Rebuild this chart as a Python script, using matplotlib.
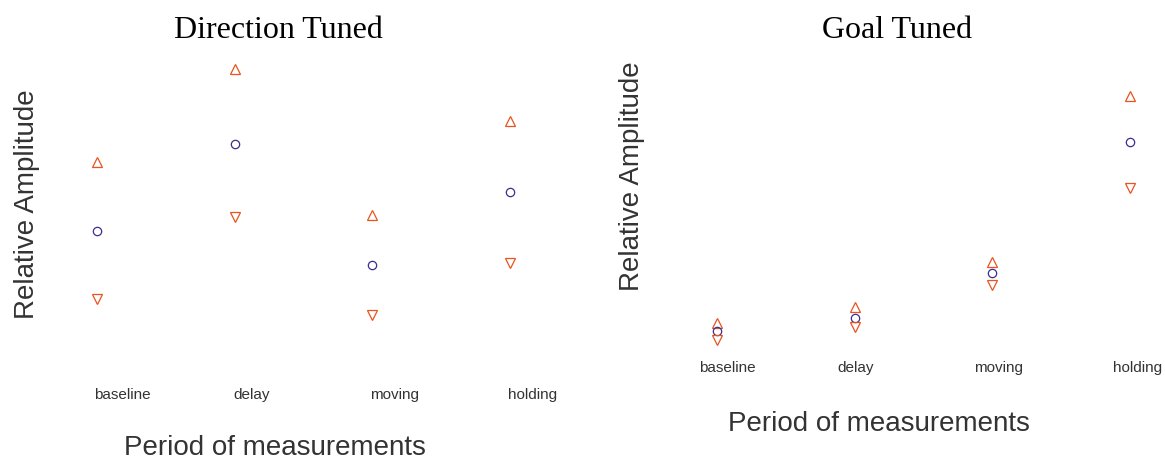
import matplotlib
matplotlib.use("Agg")
import matplotlib.pyplot as plt
import matplotlib.transforms as mtransforms

# Period categories
periods = ["baseline", "delay", "moving", "holding"]

# Direction-tuned cells: mean and upper / lower bounds (relative amplitude)
dir_mean = [0.393, 0.683, 0.280, 0.523]
dir_upper = [0.623, 0.933, 0.447, 0.760]
dir_lower = [0.167, 0.440, 0.113, 0.287]

# Goal-tuned cells: mean and upper / lower bounds (relative amplitude)
goal_mean = [0.067, 0.115, 0.281, 0.767]
goal_upper = [0.096, 0.156, 0.322, 0.937]
goal_lower = [0.033, 0.081, 0.237, 0.596]

W, H = 1165, 460
fig = plt.figure(figsize=(W / 100, H / 100), dpi=100)

ORANGE = "#E8531F"
NAVY = "#3B2E8E"
SANS = ["Liberation Sans", "DejaVu Sans"]
SERIF = ["Liberation Serif", "DejaVu Serif"]


def px_axes(x0, x1, ytop, ybot):
    return fig.add_axes([x0 / W, (H - ybot) / H, (x1 - x0) / W, (ybot - ytop) / H])


def draw_panel(ax, mean, upper, lower, first_px, step_px, x0, x1,
               label_y, label_dx):
    xs = list(range(1, len(periods) + 1))
    # x limits chosen so category 1 lands on first_px with step_px spacing
    ax.set_xlim(1 + (x0 - first_px) / step_px, 1 + (x1 - first_px) / step_px)
    ax.set_ylim(0, 1)
    ax.plot(xs, upper, linestyle="none", marker="^", ms=7, mfc="none",
            mec=ORANGE, mew=0.9)
    ax.plot(xs, mean, linestyle="none", marker="o", ms=6, mfc="none",
            mec=NAVY, mew=0.9)
    ax.plot(xs, lower, linestyle="none", marker="v", ms=7, mfc="none",
            mec=ORANGE, mew=0.9)
    trans = mtransforms.blended_transform_factory(ax.transData, ax.transAxes)
    for x, name, dx in zip(xs, periods, label_dx):
        off = mtransforms.offset_copy(trans, fig=fig, x=dx * 0.72, y=0,
                                      units="points")
        ax.text(x, label_y, name, transform=off, ha="center", va="center",
                fontsize=11, color="#333333", family=SANS)
    ax.set_axis_off()


ax1 = px_axes(40, 580, 50, 350)
draw_panel(ax1, dir_mean, dir_upper, dir_lower, 97, 137.7, 40, 580,
           -0.15, [25, 17, 22.5, 22.5])

ax2 = px_axes(640, 1160, 80, 350)
draw_panel(ax2, goal_mean, goal_upper, goal_lower, 717, 137.7, 640, 1160,
           -0.0667, [10.5, 1, 6, 7.5])


def ftext(x, y, s, **kw):
    fig.text(x / W, 1 - y / H, s, **kw)


# Panel titles
ftext(278.5, 38, "Direction Tuned", ha="center", va="baseline",
      fontsize=23, family=SERIF, color="black")
ftext(897.5, 38, "Goal Tuned", ha="center", va="baseline",
      fontsize=23, family=SERIF, color="black")

# Axis titles
ftext(275, 455, "Period of measurements", ha="center", va="baseline",
      fontsize=20, family=SANS, color="#333333")
ftext(879, 431, "Period of measurements", ha="center", va="baseline",
      fontsize=20, family=SANS, color="#333333")
ftext(27, 204, "Relative Amplitude", ha="center", va="center", rotation=90,
      fontsize=20, family=SANS, color="#333333")
ftext(632, 176, "Relative Amplitude", ha="center", va="center", rotation=90,
      fontsize=20, family=SANS, color="#333333")

fig.savefig("out.png", dpi=100, facecolor="white")
